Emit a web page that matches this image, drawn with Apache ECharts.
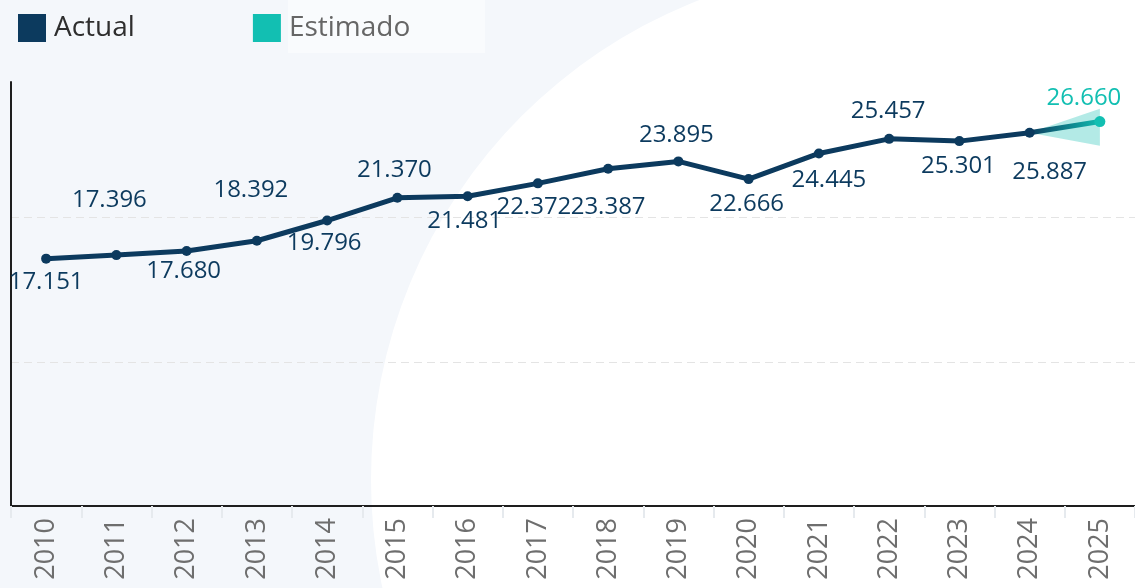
<!DOCTYPE html>
<html>
<head>
<meta charset="utf-8">
<title>Actual vs Estimado</title>
<script src="https://cdn.jsdelivr.net/npm/echarts@6/dist/echarts.min.js"></script>
<style>
  html, body { margin: 0; padding: 0; background: #f4f7fb; }
  #chart { width: 1135px; height: 588px; }
</style>
</head>
<body>
<div id="chart"></div>
<script>
// data
var years = ['2010', '2011', '2012', '2013', '2014', '2015', '2016', '2017',
             '2018', '2019', '2020', '2021', '2022', '2023', '2024', '2025'];
var actual = [17151, 17396, 17680, 18392, 19796, 21370, 21481, 22372,
              23387, 23895, 22666, 24445, 25457, 25301, 25887];
var estimated = [25887, 26660];      // 2024 -> 2025
var bandLow = [25887, 24980];        // 2024 -> 2025
var bandHigh = [25887, 27550];

// label placement (dx, dy from the point)
var labelOffsets = [[0, 24], [-7, -55], [-3, 20], [-6, -51], [-3, 23], [-3, -28],
                    [-3, 25], [-4, 24], [0, 38], [-2, -26], [-2, 25], [10, 27],
                    [-1, -28], [-1, 25], [20, 39], [-16, -23]];

var NAVY = '#0c3a5e';
var TEAL = '#12bfb2';

function fmt(v) {
    return String(v).replace(/\B(?=(\d{3})+(?!\d))/g, '.');
}

function pad(arr) {
    var out = [];
    for (var i = 0; i < years.length - arr.length; i++) out.push('-');
    return out.concat(arr);
}

var actualData = actual.map(function (v, i) {
    return {
        value: v,
        label: { offset: labelOffsets[i] }
    };
});

var estData = pad(estimated.map(function (v, i) {
    if (i === 0) return { value: v, symbol: 'none', label: { show: false } };
    return { value: v, label: { offset: labelOffsets[years.length - 1] } };
}));

var option = {
    backgroundColor: '#f4f7fb',
    textStyle: { fontFamily: 'Open Sans' },
    graphic: [
        {
            type: 'circle', z: -100, silent: true,
            shape: { cx: 886, cy: 480, r: 515 },
            style: { fill: '#ffffff' }
        },
        {
            type: 'rect', z: -100, silent: true,
            shape: { x: 886, y: 0, width: 260, height: 588 },
            style: { fill: '#ffffff' }
        },
        {
            type: 'rect', z: -99, silent: true,
            shape: { x: 288, y: 0, width: 197, height: 53 },
            style: { fill: '#f9fbfd' }
        }
    ],
    legend: {
        left: 18,
        top: 14,
        padding: 0,
        icon: 'rect',
        itemWidth: 28,
        itemHeight: 28,
        itemGap: 118,
        data: [
            { name: 'Actual', textStyle: { color: '#2e2e2e' } },
            { name: 'Estimado', textStyle: { color: '#666666' } }
        ],
        textStyle: { fontSize: 28, fontFamily: 'Open Sans', padding: [0, 0, 0, 3] }
    },
    grid: {
        left: 11,
        top: 82,
        width: 1130,
        height: 424
    },
    xAxis: {
        type: 'category',
        data: years,
        boundaryGap: true,
        axisLine: { lineStyle: { color: '#1e1e1e', width: 2 } },
        axisTick: { show: true, length: 12, lineStyle: { color: '#e6eaee', width: 2 } },
        axisLabel: {
            rotate: 90,
            margin: 12,
            fontSize: 27,
            color: '#6e6e6e',
            fontFamily: 'Open Sans'
        }
    },
    yAxis: {
        type: 'value',
        min: 0,
        max: 29400,
        interval: 10000,
        axisLine: { show: true, lineStyle: { color: '#1e1e1e', width: 2 } },
        axisTick: { show: false },
        axisLabel: { show: false },
        splitLine: {
            show: true,
            showMinLine: false,
            showMaxLine: false,
            lineStyle: { color: '#e4e4e4', type: [8, 5], width: 1 }
        }
    },
    series: [
        {
            name: 'bandBase',
            type: 'line',
            stack: 'band',
            data: pad(bandLow),
            symbol: 'none',
            lineStyle: { opacity: 0 },
            silent: true,
            z: 1
        },
        {
            name: 'band',
            type: 'line',
            stack: 'band',
            data: pad(bandHigh.map(function (v, i) { return v - bandLow[i]; })),
            symbol: 'none',
            lineStyle: { opacity: 0 },
            areaStyle: { color: TEAL, opacity: 0.32 },
            silent: true,
            z: 1
        },
        {
            name: 'Estimado',
            type: 'line',
            data: estData,
            symbol: 'circle',
            symbolSize: 11,
            itemStyle: { color: TEAL },
            lineStyle: {
                width: 5,
                color: {
                    type: 'linear', x: 0, y: 0, x2: 1, y2: 0,
                    colorStops: [{ offset: 0, color: NAVY }, { offset: 1, color: TEAL }]
                }
            },
            label: {
                show: true,
                position: 'inside',
                fontSize: 24,
                color: TEAL,
                fontFamily: 'Open Sans',
                formatter: function (p) { return fmt(p.value); }
            },
            z: 3
        },
        {
            name: 'Actual',
            type: 'line',
            data: actualData,
            symbol: 'circle',
            symbolSize: 10,
            itemStyle: { color: NAVY },
            lineStyle: { width: 5, color: NAVY },
            label: {
                show: true,
                position: 'inside',
                fontSize: 24,
                color: NAVY,
                fontFamily: 'Open Sans',
                formatter: function (p) { return fmt(p.value); }
            },
            z: 4
        }
    ]
};

var myChart = echarts.init(document.getElementById('chart'));
myChart.setOption(option, true);
</script>
</body>
</html>
